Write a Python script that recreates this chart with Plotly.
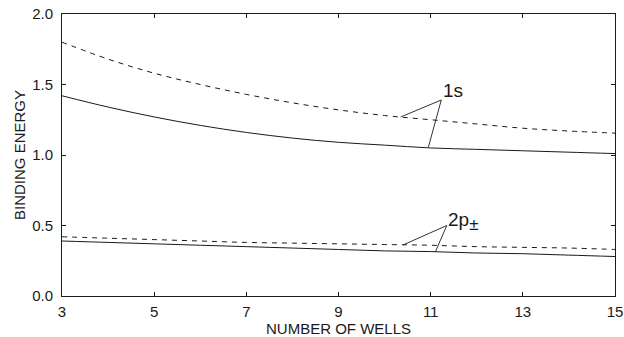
import plotly.graph_objects as go

# Number of coupled wells
wells = [3, 4, 5, 6, 7, 8, 9, 10, 11, 12, 13, 14, 15]

# Binding energies of the 1s and 2p± states (dashed and solid curves)
e1s_dashed = [1.80, 1.68, 1.58, 1.50, 1.43, 1.37, 1.32, 1.28, 1.25, 1.22, 1.19, 1.17, 1.155]
e1s_solid = [1.42, 1.34, 1.27, 1.21, 1.16, 1.12, 1.09, 1.07, 1.05, 1.04, 1.03, 1.02, 1.01]
e2p_dashed = [0.42, 0.41, 0.40, 0.39, 0.38, 0.375, 0.37, 0.365, 0.36, 0.35, 0.345, 0.34, 0.33]
e2p_solid = [0.39, 0.38, 0.37, 0.36, 0.35, 0.34, 0.33, 0.32, 0.315, 0.305, 0.30, 0.29, 0.28]

x_ticks = [3, 5, 7, 9, 11, 13, 15]
y_ticks = [0.0, 0.5, 1.0, 1.5, 2.0]

ink = "#1a1a1a"
family = "Liberation Sans, Arial, sans-serif"
font = dict(family=family, size=15, color=ink)

fig = go.Figure()
for ys, dash in [(e1s_dashed, "5px,5px"), (e1s_solid, "solid"),
                 (e2p_dashed, "5px,5px"), (e2p_solid, "solid")]:
    fig.add_trace(go.Scatter(x=wells, y=ys, mode="lines",
                             line=dict(color=ink, width=1, dash=dash, shape="spline"),
                             showlegend=False, hoverinfo="skip"))

# Leader lines from labels to the curves
leaders = [
    ((11.23, 1.39), (10.35, 1.27)),
    ((11.23, 1.39), (10.95, 1.055)),
    ((11.35, 0.50), (10.4, 0.362)),
    ((11.35, 0.50), (11.1, 0.312)),
]
for (x0, y0), (x1, y1) in leaders:
    fig.add_shape(type="line", x0=x0, y0=y0, x1=x1, y1=y1, xref="x", yref="y",
                  line=dict(color="#333333", width=1))

fig.add_annotation(x=11.22, y=1.46, text="1s", showarrow=False, xanchor="left",
                   yanchor="middle", font=dict(family=family, size=19, color=ink))
fig.add_annotation(x=11.33, y=0.53,
                   text="2p<sub><span style='font-size:17px'>±</span></sub>",
                   showarrow=False, xanchor="left", yanchor="middle",
                   font=dict(family=family, size=19, color=ink))

axis_common = dict(showline=True, linecolor=ink, linewidth=1, mirror="ticks",
                   ticks="inside", ticklen=4, tickcolor=ink, showgrid=False,
                   zeroline=False, tickfont=font, automargin=False,
                   ticklabeloverflow="allow")

fig.update_xaxes(range=[3, 15], tickvals=x_ticks, ticklabelstandoff=2,
                 title=dict(text="NUMBER OF WELLS", font=font, standoff=4),
                 **axis_common)
fig.update_yaxes(range=[0, 2], tickvals=y_ticks, tickformat=".1f", ticklabelstandoff=5,
                 title=dict(text="BINDING ENERGY", font=font, standoff=2), **axis_common)

fig.update_layout(width=624, height=337, margin=dict(l=62, r=9, t=14, b=41),
                  paper_bgcolor="white", plot_bgcolor="white", font=font)

fig.write_html("out.html")
